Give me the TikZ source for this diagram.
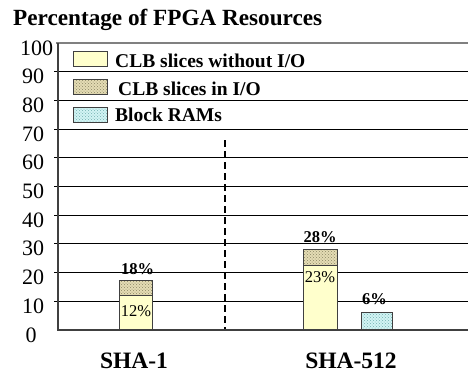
\documentclass[tikz,border=0pt]{standalone}
\usepackage{fontspec}
\setmainfont{Liberation Serif}
\usetikzlibrary{patterns}
\definecolor{clbfill}{HTML}{FFFFCC}
\definecolor{iobase}{HTML}{E4DCB4}
\definecolor{iodot}{HTML}{8A8664}
\definecolor{rambase}{HTML}{D2F4F4}
\definecolor{ramdot}{HTML}{72B0B0}
\definecolor{edgecol}{HTML}{404040}
\definecolor{topgrey}{HTML}{808080}
\tikzset{
  grid/.style={black, line width=0.9pt},
  axisline/.style={edgecol, line width=1.5pt},
  barline/.style={edgecol, line width=1pt},
  ticklab/.style={anchor=base, font=\fontsize{22}{22}\selectfont, inner sep=0pt},
  leglab/.style={anchor=base west, font=\fontsize{19.5}{20}\bfseries\selectfont, inner sep=0pt},
  catlab/.style={anchor=base, font=\fontsize{23.5}{24}\bfseries\selectfont, inner sep=0pt},
  vallab/.style={anchor=base, font=\fontsize{16.5}{17}\bfseries\selectfont, inner sep=0pt},
  inlab/.style={anchor=base, font=\fontsize{16.5}{17}\selectfont, inner sep=0pt},
  sepline/.style={black, line width=2pt, dash pattern=on 7pt off 4pt},
}
\begin{document}
\begin{tikzpicture}[x=1pt,y=-1pt]
\useasboundingbox (0,0) rectangle (468,376);
% title
\node[anchor=base west, font=\fontsize{23.2}{24}\bfseries\selectfont, inner sep=0pt] (title) at (13,25) {Percentage of FPGA Resources};
% gridlines
\draw[topgrey, line width=1.5pt] (56,43) -- (468,43);
\foreach \v in {10,20,...,90} {
  \draw[grid] (54,{330-2.87*\v}) -- (468,{330-2.87*\v});
  \node[ticklab] (t\v) at (33,{342-2.87*\v}) {\v};
}
\node[ticklab] (t100) at (36.5,55) {100};
\node[ticklab] (t0) at (31,342) {0};
% axes
\draw[axisline] (58,43) -- (58,330) -- (468,330);
% dashed separator
\coordinate (dtop) at (225,140);
\coordinate (dbot) at (225,330);
\draw[sepline] (dtop) -- (dbot);
% legend
\fill[clbfill] (73,51) rectangle (107,66);
\draw[barline] (73,51) rectangle (107,66);
\fill[iobase] (73,79) rectangle (107,94);
\path[pattern=crosshatch dots, pattern color=iodot] (73,79) rectangle (107,94);
\draw[barline] (73,79) rectangle (107,94);
\fill[rambase] (73,107) rectangle (107,122);
\path[pattern=crosshatch dots, pattern color=ramdot] (73,107) rectangle (107,122);
\draw[barline] (73,107) rectangle (107,122);
\node[leglab] (l1) at (115,67) {CLB slices without I/O};
\node[leglab] (l2) at (118,95) {CLB slices in I/O};
\node[leglab] (l3) at (115,121.5) {Block RAMs};
% SHA-1 bar
\fill[clbfill] (119,330) rectangle (152,{330-2.87*12});
\fill[iobase] (119,{330-2.87*12}) rectangle (152,{330-2.87*17.4});
\path[pattern=crosshatch dots, pattern color=iodot] (119,{330-2.87*12}) rectangle (152,{330-2.87*17.4});
\draw[barline] (119,330) rectangle (152,{330-2.87*17.4});
\draw[barline] (119,{330-2.87*12}) -- (152,{330-2.87*12});
% SHA-512 bars
\fill[clbfill] (303,330) rectangle (337,{330-2.87*22.6});
\fill[iobase] (303,{330-2.87*22.6}) rectangle (337,{330-2.87*28.2});
\path[pattern=crosshatch dots, pattern color=iodot] (303,{330-2.87*22.6}) rectangle (337,{330-2.87*28.2});
\draw[barline] (303,330) rectangle (337,{330-2.87*28.2});
\draw[barline] (303,{330-2.87*22.6}) -- (337,{330-2.87*22.6});
\fill[rambase] (361,330) rectangle (392,{330-2.87*6});
\path[pattern=crosshatch dots, pattern color=ramdot] (361,330) rectangle (392,{330-2.87*6});
\draw[barline] (361,330) rectangle (392,{330-2.87*6});
\draw[axisline] (58,330) -- (468,330);
% value labels
\node[vallab] (v18) at (137.5,274) {18\%};
\node[inlab] (v12) at (136,316) {12\%};
\node[vallab] (v28) at (320,242) {28\%};
\node[inlab] (v23) at (320,282) {23\%};
\node[vallab] (v6) at (374.5,304) {6\%};
% category labels
\node[catlab] (c1) at (134,368) {SHA-1};
\node[catlab] (c2) at (351,368) {SHA-512};
\end{tikzpicture}
\end{document}
